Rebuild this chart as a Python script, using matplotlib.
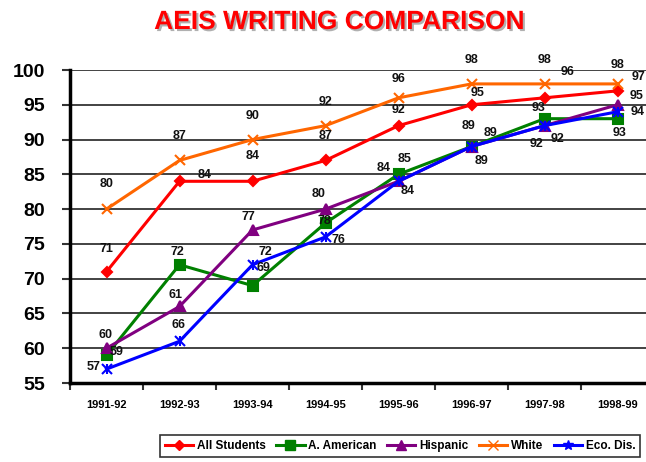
import matplotlib
matplotlib.use("Agg")
import matplotlib.pyplot as plt
import matplotlib.patheffects as pe
from matplotlib.lines import Line2D

# chart data
years = ['1991-92', '1992-93', '1993-94', '1994-95', '1995-96', '1996-97', '1997-98', '1998-99']
all_students = [71, 84, 84, 87, 92, 95, 96, 97]
a_american = [59, 72, 69, 78, 85, 89, 93, 93]
hispanic = [60, 66, 77, 80, 84, 89, 92, 95]
white = [80, 87, 90, 92, 96, 98, 98, 98]
eco_dis = [57, 61, 72, 76, 84, 89, 92, 94]

# data labels as printed on the original (two are swapped at 1992-93)
hispanic_labels = [60, 61, 77, 80, 84, 89, 92, 95]
eco_dis_labels = [57, 66, 72, 76, 84, 89, 92, 94]

# label offsets in pixels (dx, dy) for each point
off_all = [(0, 23), (25, 6), (0, 25), (0, 24), (0, 16), (6, 12), (23, 26), (21, 14)]
off_white = [(0, 25), (0, 24), (0, 24), (0, 24), (0, 19), (0, 24), (0, 24), (0, 19)]
off_aa = [(10, 3), (-2, 13), (11, 18), (-1, 2), (6, 15), (19, 14), (-6, 11), (2, -14)]
off_hisp = [(-1, 13), (-4, 11), (-4, 13), (-7, 15), (-15, 13), (-3, 21), (-8, -18), (19, 9)]
off_eco = [(-13, 2), (-1, 16), (13, 13), (13, -3), (9, -10), (10, -14), (13, -13), (20, 0)]

series = [
    ('All Students', all_students, all_students, off_all, '#FF0000', 'D', 5),
    ('A. American', a_american, a_american, off_aa, '#008000', 's', 7),
    ('Hispanic', hispanic, hispanic_labels, off_hisp, '#800080', '^', 7),
    ('White', white, white, off_white, '#FF6600', 'x', 7),
    ('Eco. Dis.', eco_dis, eco_dis_labels, off_eco, '#0000FF', 'x', 7),
]

fig = plt.figure(figsize=(6.46, 4.62), dpi=100)
ax = fig.add_axes([70 / 646, 79 / 462, 584 / 646, 313 / 462])

x = list(range(len(years)))
for name, vals, labels, offs, color, marker, ms in series:
    ax.plot(x, vals, color=color, lw=2.2, marker=marker, markersize=ms,
            markeredgewidth=1.5, markeredgecolor=color, markerfacecolor=color,
            label=name, zorder=3)
    for xi, v, lab, (dx, dy) in zip(x, vals, labels, offs):
        ax.annotate(str(lab), (xi, v), xytext=(dx, dy), textcoords='offset pixels',
                    ha='center', va='center', fontsize=9, fontweight='bold',
                    family='Liberation Sans', color='#111111', zorder=4)

# eco dis marker as asterisk-like (x plus vertical tick)
ax.plot(x, eco_dis, linestyle='none', marker='|', markersize=7, markeredgewidth=1.5,
        color='#0000FF', zorder=3)

ax.set_xlim(-0.5, 7.5)
ax.set_ylim(55, 100)
ax.set_yticks(range(55, 101, 5))
ax.set_yticklabels([str(v) for v in range(55, 101, 5)], fontsize=14, fontweight='bold',
                   family='Liberation Sans')
ax.set_xticks([i - 0.5 for i in range(9)])
ax.set_xticklabels([])
ax.set_xticks(x, minor=True)
ax.set_xticklabels(years, minor=True, fontsize=8, fontweight='bold', family='Liberation Sans')
ax.tick_params(axis='x', which='minor', length=0, pad=12)
ax.tick_params(axis='x', which='major', length=5, width=1.5, color='#333333')
ax.tick_params(axis='y', length=6, width=1.5, color='#333333', pad=12)

ax.grid(axis='y', color='#222222', lw=1.2, zorder=1)
for s in ['top', 'right']:
    ax.spines[s].set_visible(False)
ax.spines['left'].set_linewidth(2.5)
ax.spines['bottom'].set_linewidth(2.5)

# title with a soft grey shadow
fig.text(339 / 646, 1 - 22 / 462, 'AEIS WRITING COMPARISON', ha='center', va='center',
         color='#FF0000', fontsize=19, fontweight='bold', family='Liberation Sans',
         path_effects=[pe.SimplePatchShadow(offset=(1.5, -1.5), shadow_rgbFace='#B0B0B0', alpha=1.0),
                       pe.Normal()])

leg_handles = []
for name, vals, labels, offs, color, marker, ms in series:
    leg_handles.append(Line2D([], [], color=color, lw=2.2, marker=marker if name != 'Eco. Dis.' else '*',
                              markersize=ms, markeredgecolor=color, markerfacecolor=color))
leg = fig.legend(leg_handles, [s[0] for s in series], loc='center', ncol=5,
                 bbox_to_anchor=(400 / 646, 1 - 446 / 462), frameon=True, fancybox=False,
                 edgecolor='black', handlelength=2.4, handletextpad=0.3, columnspacing=0.9,
                 borderpad=0.45, prop={'family': 'Liberation Sans', 'weight': 'bold', 'size': 8.5})
leg.get_frame().set_linewidth(1.2)

fig.savefig('out.png', dpi=100)
